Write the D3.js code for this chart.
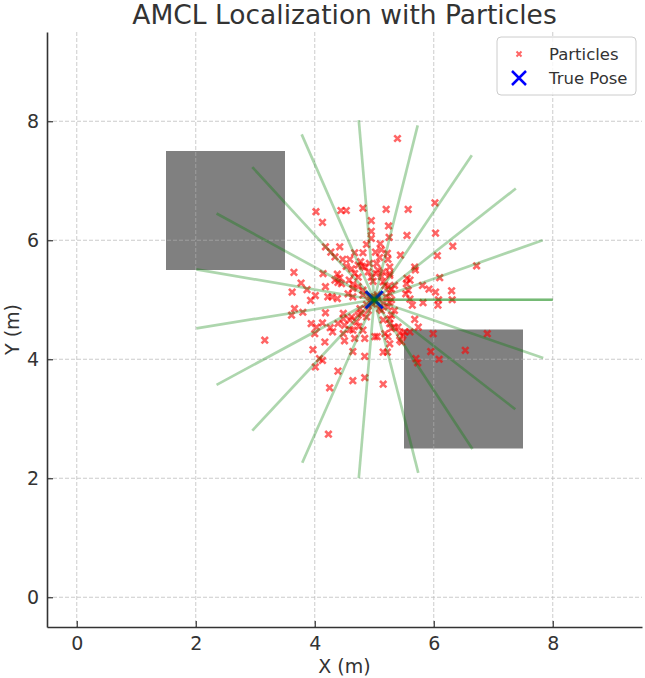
<!DOCTYPE html>
<html>
<head>
<meta charset="utf-8">
<script src="https://cdn.jsdelivr.net/npm/d3@7"></script>
<style>
  body { margin: 0; background: #fff; }
  svg { font-family: "DejaVu Sans", sans-serif; }
</style>
</head>
<body>
<div id="chart"></div>
<script>
// robot pose (true)
const truePose = [5, 5];

// obstacles: x0, y0, width, height
const obstacles = [
    [1.5, 5.5, 2, 2],
    [5.5, 2.5, 2, 2]
];

// laser ray end points
const rayEndX = [8.00, 7.83, 7.38, 6.64, 5.73, 4.74, 3.78, 2.95, 2.35, 2.01,
                 2.01, 2.35, 2.95, 3.79, 4.74, 5.74, 6.65, 7.37, 7.84, 8.00];
const rayEndY = [5.00, 6.00, 6.87, 7.43, 7.93, 8.02, 7.78, 7.23, 6.45, 5.51,
                 4.52, 3.57, 2.80, 2.26, 2.00, 2.09, 2.49, 3.16, 4.02, 5.00];

// particle positions
const particleX = [
    5.39, 4.02, 4.13, 4.44, 4.53, 4.81, 5.20, 5.57, 6.02, 4.95,
    5.24, 4.95, 4.95, 5.25, 5.55, 6.03, 6.32, 6.06, 6.72, 4.42,
    4.18, 4.87, 5.10, 5.12, 4.27, 4.34, 4.67, 4.81, 5.02, 5.22,
    5.44, 4.47, 4.59, 4.77, 4.92, 5.09, 5.23, 5.04, 5.68, 5.69,
    6.10, 3.65, 4.14, 4.38, 4.42, 4.34, 4.53, 4.62, 4.73, 4.80,
    4.84, 4.90, 5.03, 5.15, 5.26, 5.26, 5.06, 4.67, 4.73, 4.95,
    4.98, 5.12, 5.26, 5.55, 5.60, 5.54, 5.81, 5.92, 6.03, 6.30,
    6.31, 6.08, 6.07, 5.82, 5.64, 5.53, 5.57, 5.60, 5.34, 5.26,
    5.20, 5.29, 5.18, 5.29, 5.15, 5.23, 3.77, 3.62, 3.87, 3.93,
    4.01, 4.18, 4.22, 4.29, 4.38, 4.56, 4.64, 4.73, 4.81, 4.45,
    4.58, 4.64, 4.39, 3.66, 3.80, 3.61, 4.62, 4.73, 4.87, 4.18,
    4.48, 3.94, 4.03, 4.13, 4.00, 4.26, 4.30, 4.39, 4.50, 4.59,
    4.70, 4.74, 4.48, 4.64, 4.81, 4.84, 4.67, 4.50, 4.17, 5.05,
    5.18, 5.26, 3.16, 3.97, 4.64, 4.08, 4.13, 4.01, 4.84, 5.15,
    5.22, 4.39, 4.84, 4.64, 5.15, 4.25, 4.23, 5.23, 5.12, 5.15,
    5.29, 5.26, 5.34, 5.43, 5.51, 5.60, 5.68, 5.74, 5.99, 6.90,
    6.53, 5.95, 6.09, 5.70, 5.73, 5.43, 4.64, 4.81, 4.87, 4.76,
    4.90, 5.06, 5.15, 5.09, 5.26, 5.34, 5.26, 5.29, 5.40, 5.48,
    5.46, 5.23, 4.48, 4.59, 4.78, 5.01, 4.95, 5.03, 4.97, 5.05,
    4.92
];
const particleY = [
    7.71, 6.48, 6.30, 6.50, 6.50, 6.54, 6.52, 6.52, 6.63, 6.33,
    6.24, 6.15, 6.03, 6.05, 6.08, 6.12, 5.90, 5.74, 5.57, 5.89,
    5.89, 5.93, 5.94, 5.84, 5.80, 5.72, 5.79, 5.79, 5.80, 5.78,
    5.75, 5.68, 5.68, 5.64, 5.61, 5.71, 5.68, 5.61, 5.55, 5.50,
    5.37, 5.46, 5.44, 5.43, 5.37, 5.33, 5.56, 5.52, 5.58, 5.56,
    5.55, 5.47, 5.44, 5.47, 5.44, 5.55, 5.50, 5.44, 5.38, 5.38,
    5.31, 5.39, 5.41, 5.36, 5.33, 5.27, 5.24, 5.18, 5.13, 5.15,
    5.00, 5.00, 4.91, 4.95, 4.91, 5.10, 5.16, 5.01, 5.24, 5.11,
    5.05, 5.00, 5.24, 5.18, 5.30, 5.22, 5.28, 5.13, 5.17, 4.99,
    5.07, 5.22, 5.05, 5.05, 5.02, 5.10, 5.19, 5.22, 5.16, 5.27,
    5.33, 5.26, 5.29, 4.85, 4.79, 4.74, 4.71, 4.74, 4.71, 4.78,
    4.77, 4.60, 4.54, 4.61, 4.43, 4.53, 4.46, 4.60, 4.57, 4.50,
    4.63, 4.55, 4.43, 4.49, 4.49, 4.35, 4.35, 4.31, 4.29, 4.38,
    4.43, 4.26, 4.32, 4.16, 4.13, 4.01, 3.98, 3.87, 4.05, 4.12,
    4.12, 3.80, 3.69, 3.64, 3.58, 3.52, 2.74, 4.88, 4.82, 4.66,
    4.74, 4.60, 4.54, 4.44, 4.46, 4.46, 4.67, 4.54, 4.43, 4.43,
    4.15, 4.13, 4.00, 4.01, 3.94, 4.32, 5.05, 5.08, 4.92, 4.85,
    4.82, 5.05, 4.94, 4.85, 4.96, 4.82, 4.68, 4.52, 4.54, 4.40,
    4.29, 4.38, 4.68, 4.66, 4.77, 4.38, 5.03, 4.97, 4.93, 5.08,
    5.05
];

const xTicks = [0, 2, 4, 6, 8];
const yTicks = [0, 2, 4, 6, 8];

const W = 645, H = 678;
const margin = {top: 32, right: 3, bottom: 51, left: 47};
const width = W - margin.left - margin.right,
      height = H - margin.top - margin.bottom;
const textColor = '#333333';

const svg = d3.select('#chart').append('svg')
    .attr('width', W)
    .attr('height', H);

const canvas = svg.append('g')
    .attr('transform', 'translate(' + margin.left + ',' + margin.top + ')');

const x = d3.scaleLinear().domain([-0.5, 9.5]).range([0, width]);
const y = d3.scaleLinear().domain([-0.5, 9.5]).range([height, 0]);

// obstacles
canvas.selectAll('rect.obs')
    .data(obstacles)
    .enter().append('rect')
    .attr('class', 'obs')
    .attr('x', d => x(d[0]))
    .attr('y', d => y(d[1] + d[3]))
    .attr('width', d => x(d[0] + d[2]) - x(d[0]))
    .attr('height', d => y(d[1]) - y(d[1] + d[3]))
    .attr('fill', '#808080');

// grid
const grid = canvas.append('g').attr('stroke', '#b0b0b0').attr('stroke-width', 0.8)
    .attr('stroke-dasharray', '4,2').attr('opacity', 0.8);
grid.selectAll('line.v').data(xTicks).enter().append('line')
    .attr('x1', d => x(d)).attr('x2', d => x(d))
    .attr('y1', 0).attr('y2', height);
grid.selectAll('line.h').data(yTicks).enter().append('line')
    .attr('y1', d => y(d)).attr('y2', d => y(d))
    .attr('x1', 0).attr('x2', width);

// x marker path
const xMark = (s) => 'M' + (-s) + ',' + (-s) + 'L' + s + ',' + s + 'M' + (-s) + ',' + s + 'L' + s + ',' + (-s);

// particles
const particles = particleX.map((px, i) => ({x: px, y: particleY[i]}));
canvas.append('g').selectAll('path')
    .data(particles)
    .enter().append('path')
    .attr('transform', d => 'translate(' + x(d.x) + ',' + y(d.y) + ')')
    .attr('d', xMark(3.2))
    .attr('stroke', 'red')
    .attr('stroke-width', 2.6)
    .attr('opacity', 0.6);

// true pose
canvas.append('path')
    .attr('transform', 'translate(' + x(truePose[0]) + ',' + y(truePose[1]) + ')')
    .attr('d', xMark(8.5))
    .attr('stroke', 'blue')
    .attr('stroke-width', 3);

// rays
const rays = rayEndX.map((ex, i) => [[truePose[0], truePose[1]], [ex, rayEndY[i]]]);
canvas.append('g').selectAll('path')
    .data(rays)
    .enter().append('path')
    .attr('d', d3.line().x(d => x(d[0])).y(d => y(d[1])))
    .attr('fill', 'none')
    .attr('stroke', 'green')
    .attr('stroke-width', 2.7)
    .attr('stroke-opacity', 0.32);

// axes
const xAxis = canvas.append('g')
    .attr('transform', 'translate(0,' + height + ')')
    .call(d3.axisBottom(x).tickValues(xTicks).tickSizeInner(-6).tickSizeOuter(0).tickPadding(10));
const yAxis = canvas.append('g')
    .call(d3.axisLeft(y).tickValues(yTicks).tickSizeInner(-6).tickSizeOuter(0).tickPadding(8));
[xAxis, yAxis].forEach(a => {
    a.select('.domain').attr('stroke', '#333').attr('stroke-width', 1.6);
    a.selectAll('.tick line').attr('stroke', '#333').attr('stroke-width', 1.2);
    a.selectAll('.tick text').attr('fill', textColor).style('font-size', '19px')
        .style('font-family', '"DejaVu Sans", sans-serif');
});

// labels
svg.append('text')
    .attr('x', margin.left + width / 2).attr('y', 673)
    .attr('text-anchor', 'middle').attr('fill', textColor)
    .style('font-size', '19px')
    .text('X (m)');
svg.append('text')
    .attr('transform', 'translate(19,' + (margin.top + height / 2) + ') rotate(-90)')
    .attr('text-anchor', 'middle').attr('fill', textColor)
    .style('font-size', '19px')
    .text('Y (m)');
svg.append('text')
    .attr('x', margin.left + width / 2).attr('y', 24)
    .attr('text-anchor', 'middle').attr('fill', textColor)
    .style('font-size', '26.5px')
    .text('AMCL Localization with Particles');

// legend
const legend = svg.append('g').attr('transform', 'translate(497,37)');
legend.append('rect')
    .attr('width', 139).attr('height', 58).attr('rx', 4)
    .attr('fill', 'white').attr('fill-opacity', 0.8)
    .attr('stroke', '#cccccc');
legend.append('path')
    .attr('transform', 'translate(22,17)')
    .attr('d', xMark(2.5))
    .attr('stroke', 'red').attr('stroke-width', 2).attr('opacity', 0.6);
legend.append('path')
    .attr('transform', 'translate(22,41)')
    .attr('d', xMark(7))
    .attr('stroke', 'blue').attr('stroke-width', 2.5);
legend.append('text').attr('x', 52).attr('y', 23)
    .attr('fill', textColor).style('font-size', '16.5px').text('Particles');
legend.append('text').attr('x', 52).attr('y', 47)
    .attr('fill', textColor).style('font-size', '16.5px').text('True Pose');
</script>
</body>
</html>
